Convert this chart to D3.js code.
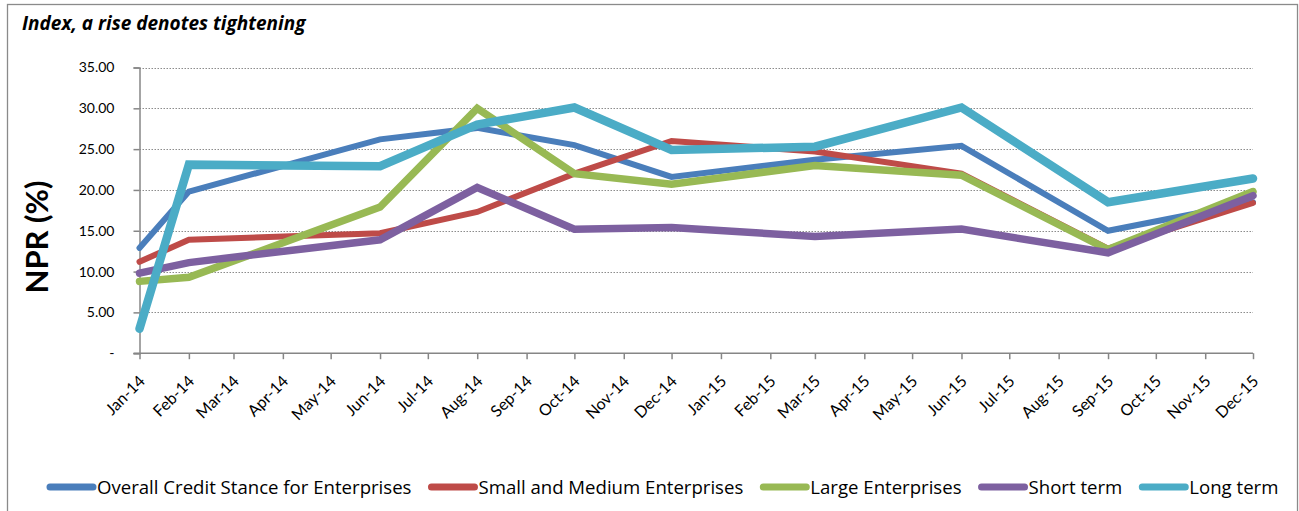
<!DOCTYPE html>
<html>
<head>
<meta charset="utf-8">
<script src="https://cdn.jsdelivr.net/npm/d3@7"></script>
<style>
  body { margin: 0; background: #fff; }
  svg { display: block; font-family: 'Open Sans', Lato, sans-serif; }
</style>
</head>
<body>
<div class="chart"></div>
<script>
// survey dates (points are plotted on a date axis)
var dates = ['2014-01-01', '2014-02-01', '2014-06-01', '2014-08-01', '2014-10-01',
             '2014-12-01', '2015-03-01', '2015-06-01', '2015-09-01', '2015-12-01'];

var overall   = [12.9, 19.8, 26.2, 27.6, 25.5, 21.6, 23.7, 25.4, 15.0, 18.5];
var sme       = [11.2, 13.9, 14.7, 17.3, 22.0, 26.0, 24.7, 22.0, 12.8, 18.4];
var large     = [ 8.8,  9.3, 17.9, 30.0, 22.0, 20.7, 23.0, 21.8, 12.7, 19.8];
var shortTerm = [ 9.8, 11.1, 13.9, 20.3, 15.2, 15.4, 14.3, 15.2, 12.3, 19.3];
var longTerm  = [ 3.0, 23.1, 22.9, 28.0, 30.1, 24.9, 25.3, 30.1, 18.5, 21.4];

var seriesNames = ['Overall Credit Stance for Enterprises', 'Small and Medium Enterprises',
                   'Large Enterprises', 'Short term', 'Long term'];
var yTicks = [0, 5, 10, 15, 20, 25, 30, 35];

var colors = ['#4a7ebb', '#be4b48', '#98b954', '#7d60a0', '#4bacc6'];
var widths = [6, 6, 7.5, 7.5, 8.5];

var width = 1299,
    height = 511,
    margin = {left: 139.5, right: 46, top: 67.5, bottom: 158};

var parse = d3.timeParse('%Y-%m-%d');
var fmt = d3.timeFormat('%b-%y');

var series = [overall, sme, large, shortTerm, longTerm].map(function(vals, i) {
  return {
    name: seriesNames[i],
    values: vals.map(function(v, j) { return {date: parse(dates[j]), value: v}; })
  };
});

var x = d3.scaleTime()
    .domain([parse('2014-01-01'), parse('2015-12-01')])
    .range([margin.left, width - margin.right]);

var y = d3.scaleLinear()
    .domain([0, 35])
    .range([height - margin.bottom + 0.2, margin.top]);

var svg = d3.select('.chart')
  .append('svg')
  .attr('width', width)
  .attr('height', height);

// outer frame
svg.append('rect')
  .attr('x', 7.5).attr('y', 4.5)
  .attr('width', 1290).attr('height', 520)
  .attr('fill', 'none')
  .attr('stroke', '#8a8a8a')
  .attr('stroke-width', 1.3);

// title
svg.append('text')
  .attr('x', 22).attr('y', 30)
  .style('font-size', '19px')
  .style('font-weight', 'bold')
  .style('font-style', 'italic')
  .text('Index, a rise denotes tightening');

// grid
svg.append('g')
  .selectAll('line')
  .data(yTicks.filter(function(d) { return d > 0; }))
  .enter()
  .append('line')
  .attr('x1', margin.left).attr('x2', width - margin.right)
  .attr('y1', function(d) { return Math.round(y(d)) + 0.5; })
  .attr('y2', function(d) { return Math.round(y(d)) + 0.5; })
  .attr('stroke', '#8c8c8c')
  .attr('stroke-width', 1)
  .attr('stroke-dasharray', '1.5,1.5');

// y axis
var yAxis = d3.axisLeft(y)
  .tickValues(yTicks)
  .tickSize(6)
  .tickPadding(19)
  .tickFormat(function(d) { return d === 0 ? '-' : d3.format('.2f')(d); });

var gy = svg.append('g')
  .attr('transform', 'translate(' + margin.left + ',0)')
  .call(yAxis);
gy.select('.domain').attr('stroke', '#868686').attr('stroke-width', 1.5);
gy.selectAll('.tick line').attr('stroke', '#868686').attr('stroke-width', 1.5);
gy.selectAll('.tick text')
  .style('font-size', '14px')
  .style('font-family', 'Lato, sans-serif')
  .attr('fill', '#000');

// x axis
var xAxis = d3.axisBottom(x)
  .ticks(d3.timeMonth.every(1))
  .tickSize(6)
  .tickSizeOuter(0)
  .tickFormat(fmt);

var gx = svg.append('g')
  .attr('transform', 'translate(0,' + y(0) + ')')
  .call(xAxis);
gx.select('.domain')
  .attr('d', 'M' + (margin.left - 6) + ',0H' + (width - margin.right))
  .attr('stroke', '#868686').attr('stroke-width', 1.5);
gx.selectAll('.tick line').attr('stroke', '#868686').attr('stroke-width', 1.5);
gx.selectAll('.tick text')
  .attr('y', 0).attr('dy', 0)
  .attr('text-anchor', 'end')
  .attr('transform', 'translate(6,29) rotate(-45)')
  .style('font-size', '16px')
  .style('font-family', 'Lato, sans-serif')
  .attr('fill', '#000');

// y axis title
svg.append('text')
  .attr('transform', 'translate(48,237) rotate(-90)')
  .attr('text-anchor', 'middle')
  .style('font-size', '31px')
  .style('font-weight', 'bold')
  .style('font-family', 'Lato, sans-serif')
  .text('NPR (%)');

// lines
var line = d3.line()
  .defined(function(d) { return d.value != null; })
  .x(function(d) { return x(d.date); })
  .y(function(d) { return y(d.value); });

svg.append('g')
  .selectAll('path')
  .data(series)
  .enter()
  .append('path')
  .attr('d', function(d) { return line(d.values); })
  .attr('fill', 'none')
  .attr('stroke', function(d, i) { return colors[i]; })
  .attr('stroke-width', function(d, i) { return widths[i]; })
  .attr('stroke-linejoin', 'miter')
  .attr('stroke-linecap', 'round');

// legend
var legend = svg.append('g').attr('transform', 'translate(0,487)');
var lx = 50;
series.forEach(function(s, i) {
  legend.append('line')
    .attr('x1', lx).attr('x2', lx + 43)
    .attr('y1', 0).attr('y2', 0)
    .attr('stroke', colors[i])
    .attr('stroke-width', 7)
    .attr('stroke-linecap', 'round');
  var t = legend.append('text')
    .attr('x', lx + 47).attr('y', 6.5)
    .style('font-size', '18.6px')
    .text(s.name);
  lx += 47 + t.node().getComputedTextLength() + 20;
});
</script>
</body>
</html>
